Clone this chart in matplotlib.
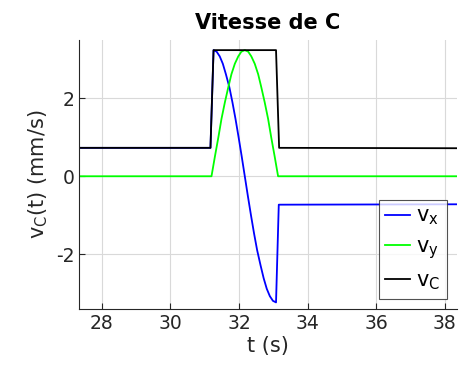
"""
Vitesse de C : composantes vx, vy et norme vC
"""

import numpy as np
import matplotlib.pyplot as plt

plt.rcParams["axes.unicode_minus"] = False

# vx (blue)
t_x = [27.3, 31.17, 31.26, 31.35, 31.44, 31.53, 31.62, 31.72, 31.81, 31.90, 31.99, 32.08,
       32.17, 32.26, 32.35, 32.44, 32.53, 32.63, 32.72, 32.81, 32.90, 32.99, 33.08,
       33.16, 38.4]
vx = [0.73, 0.73, 3.24, 3.20, 3.08, 2.89, 2.62, 2.29, 1.90, 1.47, 1.00, 0.51,
      0.0, -0.51, -1.00, -1.47, -1.90, -2.29, -2.62, -2.89, -3.08, -3.20, -3.24,
      -0.73, -0.72]

# vy (green)
t_y = [27.3, 31.20, 31.30, 31.40, 31.49, 31.59, 31.69, 31.78, 31.88, 31.98, 32.07,
       32.17, 32.27, 32.36, 32.46, 32.56, 32.65, 32.75, 32.85, 32.94, 33.04, 33.14, 38.4]
vy = [0.0, 0.0, 0.51, 1.00, 1.47, 1.90, 2.29, 2.62, 2.89, 3.08, 3.20,
      3.24, 3.20, 3.08, 2.89, 2.62, 2.29, 1.90, 1.47, 1.00, 0.51, 0.0, 0.0]

# vC (black)
t_c = [27.3, 31.17, 31.26, 33.08, 33.17, 38.4]
vc = [0.73, 0.73, 3.24, 3.24, 0.73, 0.72]

txt = "#262626"
fig = plt.figure(figsize=(4.62, 3.67), dpi=100)
ax = fig.add_axes([0.171, 0.158, 0.818, 0.733])

ax.plot(t_x, vx, color="#0000ff", lw=1.3, label=r"v$_\mathregular{x}$")
ax.plot(t_y, vy, color="#00ff00", lw=1.3, label=r"v$_\mathregular{y}$")
ax.plot(t_c, vc, color="black", lw=1.3, label=r"v$_\mathregular{C}$")

ax.set_xlim(27.34, 38.35)
ax.set_ylim(-3.41, 3.5)
ax.set_xticks([28, 30, 32, 34, 36, 38])
ax.set_yticks([-2, 0, 2])
ax.grid(True, color="#d9d9d9", lw=0.8)
ax.set_axisbelow(True)
for s in ["top", "right"]:
  ax.spines[s].set_visible(False)
for s in ["left", "bottom"]:
  ax.spines[s].set_color("#262626")
  ax.spines[s].set_linewidth(0.8)
ax.tick_params(direction="in", labelsize=13.5, colors=txt, length=4)

ax.set_title("Vitesse de C", fontsize=15, fontweight="bold", pad=8)
ax.set_xlabel("t (s)", fontsize=15, color=txt, labelpad=2)
ax.set_ylabel(r"v$_\mathregular{C}$(t) (mm/s)", fontsize=15, color=txt, labelpad=4)

leg = ax.legend(loc="lower right", fontsize=15, frameon=True, fancybox=False,
                edgecolor="#262626", handlelength=1.2, borderaxespad=0.5,
                labelspacing=0.45, handletextpad=0.3, borderpad=0.3)
leg.get_frame().set_linewidth(0.8)

fig.savefig("out.png", dpi=100)
plt.close()
